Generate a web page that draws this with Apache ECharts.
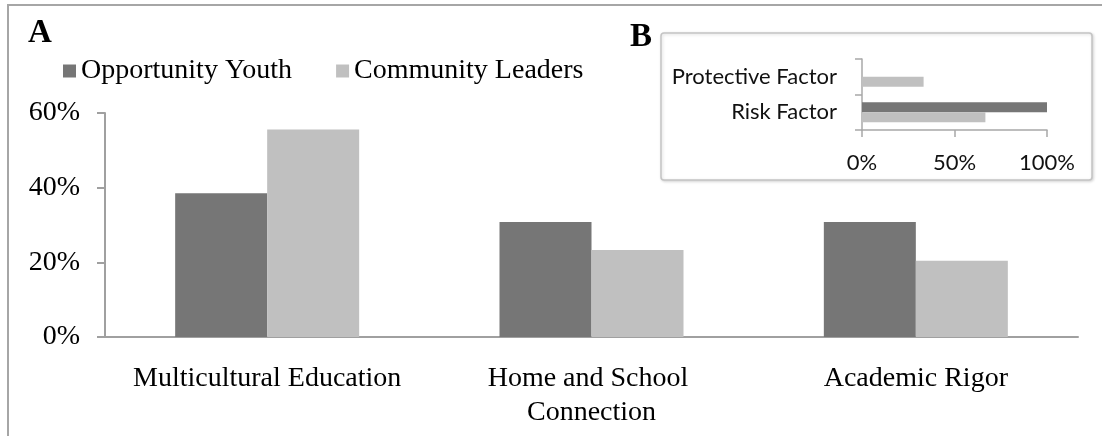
<!DOCTYPE html>
<html>
<head>
<meta charset="utf-8">
<script src="https://cdn.jsdelivr.net/npm/echarts@6/dist/echarts.min.js"></script>
<style>
  html, body { margin: 0; padding: 0; background: #fff; }
  #chart { width: 1102px; height: 436px; }
</style>
</head>
<body>
<div id="chart"></div>
<script>
// panel A
var categories = ["Multicultural Education", "Home and School Connection", "Academic Rigor"];
var youthValues = [38.5, 30.8, 30.8];
var leaderValues = [55.6, 23.3, 20.4];
var yTicks = [0, 20, 40, 60];

// panel B (inset)
var factorCategories = ["Risk Factor", "Protective Factor"];
var youthFactor = [100, 0];
var leaderFactor = [66.7, 33.3];
var xTicksB = [0, 50, 100];

var seriesNames = ["Opportunity Youth", "Community Leaders"];
var dark = "#767676";
var light = "#c0c0c0";
var serif = "Liberation Serif";
var sans = "Lato";

var chart = echarts.init(document.getElementById("chart"));

var option = {
  animation: false,
  backgroundColor: "#fff",
  legend: {
    data: seriesNames,
    left: 58,
    top: 52,
    icon: "rect",
    itemWidth: 13,
    itemHeight: 13,
    itemGap: 44,
    textStyle: { fontFamily: serif, fontSize: 28, color: "#000" }
  },
  grid: [
    { left: 105, right: 24, top: 113, bottom: 99 },
    { left: 862, right: 1102 - 1047, top: 59, bottom: 436 - 130 }
  ],
  xAxis: [
    {
      gridIndex: 0,
      type: "category",
      data: categories,
      axisLine: { lineStyle: { color: "#a0a0a0", width: 2 } },
      axisTick: { show: false },
      axisLabel: {
        interval: 0,
        margin: 25,
        width: 300,
        overflow: "break",
        lineHeight: 34,
        fontFamily: serif,
        fontSize: 28,
        color: "#000"
      }
    },
    {
      gridIndex: 1,
      type: "value",
      min: xTicksB[0],
      max: xTicksB[xTicksB.length - 1],
      interval: xTicksB[1] - xTicksB[0],
      splitLine: { show: false },
      axisLine: { show: true, lineStyle: { color: "#a8a8a8", width: 1.5 } },
      axisTick: { show: true, length: 7, lineStyle: { color: "#a8a8a8", width: 1.5 } },
      axisLabel: {
        margin: 22,
        formatter: "{value}%",
        fontFamily: sans,
        fontSize: 22,
        color: "#111"
      }
    }
  ],
  yAxis: [
    {
      gridIndex: 0,
      type: "value",
      min: yTicks[0],
      max: yTicks[yTicks.length - 1],
      interval: yTicks[1] - yTicks[0],
      splitLine: { show: false },
      axisLine: { show: true, lineStyle: { color: "#a0a0a0", width: 2 } },
      axisTick: { show: true, length: 8, lineStyle: { color: "#a0a0a0", width: 2 } },
      axisLabel: {
        margin: 25,
        formatter: "{value}%",
        fontFamily: serif,
        fontSize: 28,
        color: "#000"
      }
    },
    {
      gridIndex: 1,
      type: "category",
      data: factorCategories,
      axisLine: { show: true, lineStyle: { color: "#a8a8a8", width: 1.5 } },
      axisTick: { show: true, length: 7, lineStyle: { color: "#a8a8a8", width: 1.5 } },
      axisLabel: {
        margin: 25,
        fontFamily: sans,
        fontSize: 22,
        color: "#111"
      }
    }
  ],
  series: [
    {
      name: seriesNames[0],
      type: "bar",
      xAxisIndex: 0,
      yAxisIndex: 0,
      data: youthValues,
      barWidth: 92,
      barGap: "0%",
      itemStyle: { color: dark }
    },
    {
      name: seriesNames[1],
      type: "bar",
      xAxisIndex: 0,
      yAxisIndex: 0,
      data: leaderValues,
      barWidth: 92,
      barGap: "0%",
      itemStyle: { color: light }
    },
    {
      name: seriesNames[0],
      type: "bar",
      xAxisIndex: 1,
      yAxisIndex: 1,
      data: youthFactor,
      barWidth: 10,
      barGap: "0%",
      itemStyle: { color: dark }
    },
    {
      name: seriesNames[1],
      type: "bar",
      xAxisIndex: 1,
      yAxisIndex: 1,
      data: leaderFactor,
      barWidth: 10,
      barGap: "0%",
      itemStyle: { color: light }
    }
  ],
  graphic: [
    {
      type: "rect",
      z: -10,
      silent: true,
      shape: { x: 8, y: 5, width: 1200, height: 1000 },
      style: { fill: "none", stroke: "#a6a6a6", lineWidth: 2 }
    },
    {
      type: "rect",
      z: -5,
      silent: true,
      shape: { x: 661, y: 33, width: 431, height: 147, r: 3 },
      style: {
        fill: "#fff",
        stroke: "#c4c4c4",
        lineWidth: 1.5,
        shadowBlur: 3,
        shadowOffsetX: 1,
        shadowOffsetY: 1,
        shadowColor: "rgba(0,0,0,0.15)"
      }
    },
    {
      type: "text",
      left: 28,
      top: 17,
      style: { text: "A", font: "bold 33px 'Liberation Serif'", fill: "#000" }
    },
    {
      type: "text",
      left: 630,
      top: 21,
      style: { text: "B", font: "bold 33px 'Liberation Serif'", fill: "#000" }
    }
  ]
};

chart.setOption(option);
</script>
</body>
</html>
